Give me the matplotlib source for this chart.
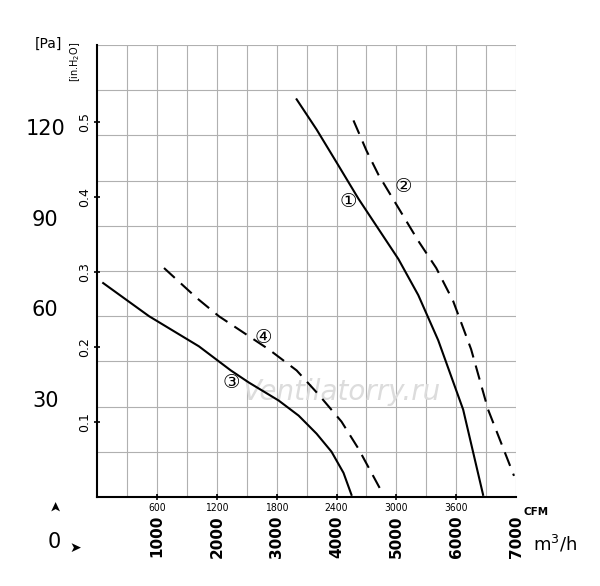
import matplotlib
matplotlib.use("Agg")
import matplotlib.pyplot as plt
import numpy as np

PA_PER_IN = 249.09

# curves: flow in CFM, pressure in Pa
c1_cfm = [2000, 2200, 2420, 2620, 2820, 3020, 3220, 3420, 3670, 3870]
c1_pa  = [132, 122, 110, 99, 89, 79, 67, 52, 29, 0.7]
c2_cfm = [2570, 2700, 2820, 3020, 3220, 3400, 3570, 3750, 3920, 4180]
c2_pa  = [125, 115, 107, 96, 85, 76, 65, 49, 29, 7]
c3_cfm = [60, 520, 1020, 1340, 1520, 1820, 2020, 2200, 2350, 2470, 2550]
c3_pa  = [71, 60, 50, 42, 38, 32, 27, 21, 15, 8, 0.7]
c4_cfm = [670, 1000, 1220, 1720, 2000, 2220, 2450, 2620, 2870]
c4_pa  = [76, 66, 60, 49, 42, 34, 25, 16, 0.7]

cfm_ticks = [600, 1200, 1800, 2400, 3000, 3600]
m3h_labels = ["1000", "2000", "3000", "4000", "5000", "6000", "7000"]
pa_labels = [30, 60, 90, 120]
inh2o_ticks = [0.1, 0.2, 0.3, 0.4, 0.5]

fig = plt.figure(figsize=(6, 5.86), dpi=100)
ax = fig.add_axes([0.162, 0.152, 0.698, 0.771])
ax.set_xlim(0, 4200)
ax.set_ylim(0, 150)

for x in np.arange(300, 4201, 300):
    ax.axvline(x, color="#b0b0b0", lw=0.8, zorder=0)
for y in np.arange(15, 151, 15):
    ax.axhline(y, color="#b0b0b0", lw=0.8, zorder=0)

ax.plot(c1_cfm, c1_pa, color="black", lw=1.5)
ax.plot(c2_cfm, c2_pa, color="black", lw=1.5, ls=(0, (7, 4)))
ax.plot(c3_cfm, c3_pa, color="black", lw=1.5)
ax.plot(c4_cfm, c4_pa, color="black", lw=1.5, ls=(0, (7, 4)))

for lab, (x, y) in zip(["①", "②", "③", "④"],
                       [(2520, 98), (3070, 103), (1340, 38), (1670, 53)]):
    ax.text(x, y, lab, fontsize=14, ha="center", va="center")

ax.text(2450, 35, "Ventilatorry.ru", fontsize=20, style="italic",
        color="#dcdcdc", ha="center", va="center", zorder=1)

for s in ["top", "right"]:
    ax.spines[s].set_visible(False)
ax.spines["left"].set_linewidth(1.5)
ax.spines["bottom"].set_linewidth(1.5)

ax.set_xticks(cfm_ticks)
ax.set_xticklabels([str(v) for v in cfm_ticks], fontsize=7.5, fontstretch="condensed")
ax.set_yticks([v * PA_PER_IN for v in inh2o_ticks])
ax.set_yticklabels([str(v) for v in inh2o_ticks], rotation=90, va="center", fontsize=9)
ax.tick_params(direction="inout", length=5, width=1.2, pad=2)

for i, lab in enumerate(m3h_labels):
    ax.text(600 * (i + 1), -6, lab, rotation=90, fontsize=11,
            ha="center", va="top", fontweight="bold")
for v in pa_labels:
    ax.text(-0.124, v + 2, str(v), transform=ax.get_yaxis_transform(),
            fontsize=15, ha="center", va="center")

fig.text(0.893, 0.126, "CFM", fontsize=7.5, ha="center", va="center", fontweight="bold")
fig.text(0.925, 0.072, "m$^3$/h", fontsize=13, ha="center", va="center")
fig.text(0.08, 0.925, "[Pa]", fontsize=10, ha="center", va="center")
fig.text(0.125, 0.895, "[in.H$_2$O]", fontsize=7, rotation=90, ha="center", va="center")
fig.text(0.09, 0.075, "0", fontsize=15, ha="center", va="center")
fig.text(0.093, 0.138, "➤", fontsize=10, rotation=90, ha="center", va="center")
fig.text(0.125, 0.065, "➤", fontsize=10, ha="center", va="center")

fig.savefig("out.png", dpi=100, facecolor="white")
